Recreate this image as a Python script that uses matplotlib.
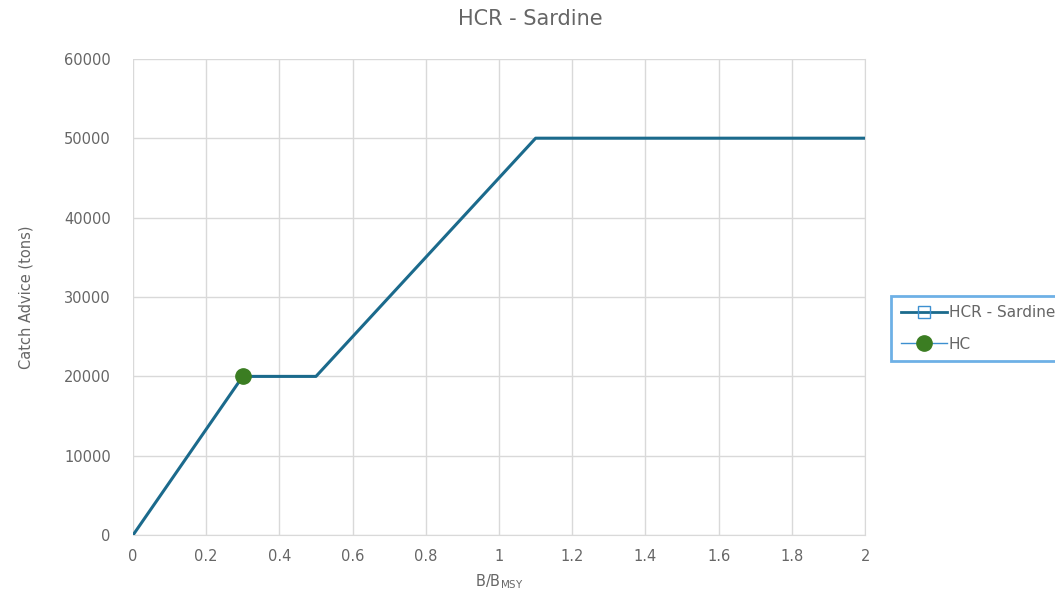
import matplotlib
matplotlib.use("Agg")
import matplotlib.pyplot as plt
from matplotlib.lines import Line2D

# Data
hcr_x = [0, 0.3, 0.5, 1.1, 2.0]
hcr_y = [0, 20000, 20000, 50000, 50000]
hc_x = [0.3]
hc_y = [20000]
x_ticks = [0, 0.2, 0.4, 0.6, 0.8, 1, 1.2, 1.4, 1.6, 1.8, 2]
x_tick_labels = ["0", "0.2", "0.4", "0.6", "0.8", "1", "1.2", "1.4", "1.6", "1.8", "2"]
y_ticks = [0, 10000, 20000, 30000, 40000, 50000, 60000]

line_color = "#1b6a8c"
dot_color = "#3b7d22"
text_color = "#666666"
grid_color = "#d9d9d9"

fig = plt.figure(figsize=(10.55, 6), dpi=100)
ax = fig.add_axes([0.126, 0.108, 0.694, 0.794])

ax.plot(hcr_x, hcr_y, color=line_color, lw=2.2, solid_capstyle="round", zorder=3)
ax.plot(hc_x, hc_y, 'o', color=dot_color, markersize=11, zorder=4)

ax.set_xlim(0, 2)
ax.set_ylim(0, 60000)
ax.set_xticks(x_ticks)
ax.set_xticklabels(x_tick_labels)
ax.set_yticks(y_ticks)
ax.grid(True, color=grid_color, lw=1)
ax.set_axisbelow(True)
for s in ["top", "left"]:
    ax.spines[s].set_visible(False)
ax.spines["bottom"].set_color(grid_color)
ax.spines["right"].set_color(grid_color)
ax.tick_params(length=0, colors=text_color, labelsize=10.5, pad=10)
ax.tick_params(axis='y', pad=16)

ax.set_xlabel(r"B/B$_{\mathregular{MSY}}$", color=text_color, fontsize=10.5, labelpad=6)
ax.set_ylabel("Catch Advice (tons)", color=text_color, fontsize=10.5, labelpad=22)
fig.text(0.503, 0.968, "HCR - Sardine", ha="center", va="center", color=text_color, fontsize=15)

handles = [
    Line2D([], [], color=line_color, lw=2, marker='s', markersize=8,
           markerfacecolor='none', markeredgecolor="#3c8fd0"),
    Line2D([], [], color="#3c8fd0", lw=1, marker='o', markersize=11,
           markerfacecolor=dot_color, markeredgecolor=dot_color),
]
leg = fig.legend(handles, ["HCR - Sardine", "HC"], loc="center left",
                 bbox_to_anchor=(0.845, 0.4525), frameon=True, fancybox=False,
                 edgecolor="#4a9de0", fontsize=11, labelcolor=text_color,
                 handlelength=3.0, handletextpad=0.1, borderpad=0.65, labelspacing=1.05,
                 borderaxespad=0)
leg.get_frame().set_linewidth(2)

fig.savefig("out.png", dpi=100)
